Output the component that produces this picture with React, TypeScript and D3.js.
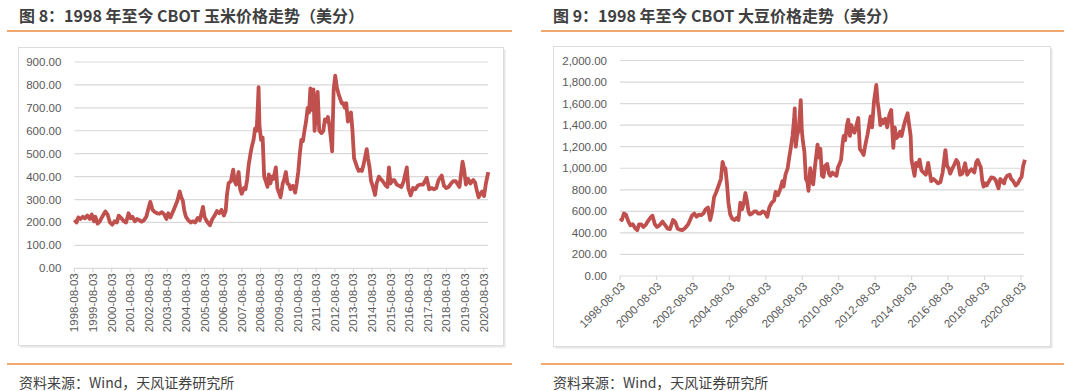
import React from 'react';
import * as d3 from 'd3';

// CBOT corn, cents per bushel
const cornDates = [
  '1998-08-03', '1998-09-15', '1998-10-20', '1998-12-01', '1999-01-15', '1999-03-01', '1999-04-15', '1999-06-01',
  '1999-07-10', '1999-08-20', '1999-09-20', '1999-11-01', '1999-12-15', '2000-02-01', '2000-04-01', '2000-05-15',
  '2000-07-01', '2000-08-15', '2000-10-01', '2000-11-15', '2000-12-20', '2001-02-10', '2001-04-01', '2001-05-15',
  '2001-07-01', '2001-08-10', '2001-09-15', '2001-11-01', '2001-12-15', '2002-02-01', '2002-03-15', '2002-05-01',
  '2002-06-15', '2002-08-01', '2002-09-01', '2002-10-15', '2002-12-01', '2003-01-15', '2003-03-01', '2003-04-15',
  '2003-06-01', '2003-07-15', '2003-08-20', '2003-10-01', '2003-11-15', '2004-01-01', '2004-02-15', '2004-04-01',
  '2004-05-01', '2004-06-01', '2004-07-01', '2004-08-01', '2004-09-15', '2004-11-01', '2004-12-15', '2005-02-01',
  '2005-03-20', '2005-05-01', '2005-07-01', '2005-08-01', '2005-09-15', '2005-11-15', '2006-01-01', '2006-02-15',
  '2006-04-01', '2006-05-15', '2006-07-01', '2006-08-15', '2006-09-20', '2006-10-15', '2006-11-15', '2007-01-01',
  '2007-02-15', '2007-03-15', '2007-04-15', '2007-05-15', '2007-06-01', '2007-07-01', '2007-08-01', '2007-09-15',
  '2007-10-15', '2007-11-15', '2007-12-15', '2008-01-20', '2008-02-20', '2008-03-20', '2008-04-20', '2008-05-20',
  '2008-06-15', '2008-06-27', '2008-07-15', '2008-08-15', '2008-09-15', '2008-10-15', '2008-11-15', '2008-12-20',
  '2009-01-15', '2009-02-15', '2009-03-15', '2009-04-15', '2009-06-01', '2009-07-01', '2009-08-01', '2009-09-01',
  '2009-10-15', '2009-11-15', '2009-12-15', '2010-01-15', '2010-02-15', '2010-03-15', '2010-05-01', '2010-06-15',
  '2010-07-15', '2010-08-15', '2010-09-15', '2010-10-15', '2010-11-15', '2010-12-15', '2011-01-15', '2011-02-15',
  '2011-03-15', '2011-04-10', '2011-05-15', '2011-06-10', '2011-07-01', '2011-08-01', '2011-08-31', '2011-10-01',
  '2011-11-15', '2011-12-20', '2012-01-20', '2012-02-20', '2012-03-20', '2012-04-20', '2012-05-20', '2012-06-10',
  '2012-07-10', '2012-08-10', '2012-09-10', '2012-10-15', '2012-11-15', '2012-12-15', '2013-01-15', '2013-02-15',
  '2013-03-15', '2013-04-15', '2013-05-15', '2013-06-15', '2013-07-15', '2013-08-15', '2013-09-15', '2013-10-15',
  '2013-11-15', '2013-12-15', '2014-01-15', '2014-02-15', '2014-03-15', '2014-04-20', '2014-05-15', '2014-06-15',
  '2014-07-15', '2014-08-15', '2014-10-01', '2014-11-01', '2014-12-15', '2015-01-15', '2015-03-01', '2015-05-01',
  '2015-06-01', '2015-07-01', '2015-08-01', '2015-09-15', '2015-10-15', '2015-12-01', '2016-01-15', '2016-03-01',
  '2016-04-15', '2016-06-15', '2016-07-15', '2016-08-30', '2016-10-15', '2016-12-01', '2017-01-15', '2017-03-01',
  '2017-05-01', '2017-07-10', '2017-08-30', '2017-10-15', '2017-12-01', '2018-01-15', '2018-03-01', '2018-05-01',
  '2018-06-15', '2018-08-01', '2018-09-15', '2018-11-01', '2018-12-15', '2019-02-01', '2019-04-15', '2019-06-15',
  '2019-07-15', '2019-08-20', '2019-10-01', '2019-11-15', '2020-01-10', '2020-02-15', '2020-03-15', '2020-04-25',
  '2020-06-01', '2020-07-01', '2020-08-10', '2020-09-15', '2020-11-01',
];
const cornValues = [
  211, 200, 222, 215, 225, 218, 230, 215,
  235, 205, 225, 195, 205, 225, 248, 235,
  200, 190, 205, 200, 230, 218, 205, 200,
  240, 218, 225, 205, 215, 210, 203, 210,
  225, 265, 290, 255, 245, 240, 238, 245,
  235, 215, 240, 222, 245, 270, 295, 335,
  310, 295, 250, 225, 210, 200, 205, 200,
  220, 210, 268, 225, 205, 188, 215, 230,
  250, 240, 255, 230, 250, 320, 370, 380,
  430, 380, 365, 400, 420, 345, 325, 350,
  345, 385, 450, 500, 535, 560, 610, 600,
  720, 790, 620, 560, 570, 400, 380, 355,
  410, 370, 400, 390, 440, 350, 330, 310,
  370, 390, 420, 370, 365, 345, 360, 330,
  370, 420, 500, 560, 555, 600, 640, 700,
  680, 785, 690, 780, 600, 680, 770, 600,
  590, 600, 650, 640, 660, 620, 560, 510,
  780, 840, 790, 760, 740, 720, 720, 700,
  720, 640, 660, 680, 600, 480, 460, 440,
  425, 430, 425, 450, 480, 520, 480, 440,
  380, 360, 320, 370, 400, 390, 380, 360,
  355, 440, 370, 385, 385, 365, 360, 355,
  380, 440, 350, 318, 350, 345, 360, 365,
  365, 395, 345, 350, 345, 350, 385, 405,
  360, 350, 355, 370, 380, 380, 355, 465,
  430, 365, 390, 370, 385, 375, 345, 310,
  325, 335, 315, 370, 420,
];

// CBOT soybeans, cents per bushel
const soyDates = [
  '1998-08-03', '1998-09-10', '1998-10-20', '1998-12-01', '1999-01-15', '1999-03-01', '1999-04-15', '1999-06-01',
  '1999-07-15', '1999-08-20', '1999-10-01', '1999-11-15', '2000-01-01', '2000-02-15', '2000-04-01', '2000-05-15',
  '2000-07-01', '2000-08-15', '2000-10-01', '2000-12-01', '2001-01-20', '2001-03-15', '2001-05-01', '2001-07-01',
  '2001-08-15', '2001-10-01', '2001-11-15', '2002-01-01', '2002-03-01', '2002-05-01', '2002-07-15', '2002-09-01',
  '2002-10-15', '2002-12-01', '2003-01-15', '2003-03-01', '2003-04-15', '2003-06-01', '2003-07-15', '2003-08-20',
  '2003-10-01', '2003-11-15', '2004-01-01', '2004-02-15', '2004-03-20', '2004-04-15', '2004-05-15', '2004-06-15',
  '2004-07-15', '2004-08-20', '2004-10-01', '2004-11-15', '2004-12-30', '2005-02-01', '2005-03-10', '2005-04-15',
  '2005-05-20', '2005-06-20', '2005-07-20', '2005-08-20', '2005-09-20', '2005-11-01', '2005-12-15', '2006-01-20',
  '2006-03-01', '2006-04-15', '2006-06-01', '2006-07-15', '2006-09-01', '2006-10-15', '2006-12-01', '2007-01-15',
  '2007-02-15', '2007-04-01', '2007-05-15', '2007-07-01', '2007-07-25', '2007-09-01', '2007-10-15', '2007-11-15',
  '2007-12-20', '2008-01-20', '2008-02-20', '2008-03-05', '2008-03-25', '2008-04-20', '2008-05-20', '2008-06-15',
  '2008-07-03', '2008-07-25', '2008-08-15', '2008-09-15', '2008-10-15', '2008-11-15', '2008-12-05', '2009-01-10',
  '2009-02-15', '2009-03-10', '2009-04-15', '2009-06-05', '2009-07-01', '2009-08-01', '2009-09-01', '2009-10-01',
  '2009-11-01', '2009-12-15', '2010-01-20', '2010-02-15', '2010-04-01', '2010-05-15', '2010-06-20', '2010-07-20',
  '2010-08-20', '2010-09-20', '2010-10-20', '2010-11-10', '2010-12-10', '2011-01-15', '2011-02-10', '2011-03-15',
  '2011-04-15', '2011-05-15', '2011-06-15', '2011-07-15', '2011-08-30', '2011-10-01', '2011-11-15', '2011-12-15',
  '2012-01-20', '2012-03-01', '2012-04-10', '2012-05-01', '2012-06-01', '2012-07-10', '2012-08-25', '2012-09-20',
  '2012-10-20', '2012-11-15', '2012-12-15', '2013-01-15', '2013-02-20', '2013-04-01', '2013-05-15', '2013-06-20',
  '2013-08-01', '2013-08-30', '2013-10-01', '2013-11-15', '2013-12-15', '2014-01-15', '2014-02-20', '2014-04-01',
  '2014-05-15', '2014-06-15', '2014-07-15', '2014-08-01', '2014-09-01', '2014-10-01', '2014-10-30', '2014-12-01',
  '2015-01-10', '2015-02-15', '2015-04-01', '2015-05-15', '2015-06-30', '2015-08-01', '2015-09-01', '2015-10-15',
  '2015-12-01', '2016-01-15', '2016-03-01', '2016-04-15', '2016-06-10', '2016-07-15', '2016-08-15', '2016-09-15',
  '2016-10-20', '2016-12-01', '2017-01-15', '2017-02-20', '2017-04-01', '2017-05-15', '2017-07-10', '2017-08-20',
  '2017-10-01', '2017-11-15', '2018-01-10', '2018-02-20', '2018-03-20', '2018-04-20', '2018-05-20', '2018-06-20',
  '2018-07-15', '2018-08-20', '2018-09-15', '2018-11-01', '2018-12-15', '2019-02-01', '2019-03-15', '2019-05-10',
  '2019-06-15', '2019-07-20', '2019-09-01', '2019-09-20', '2019-11-01', '2019-12-20', '2020-01-20', '2020-03-01',
  '2020-04-20', '2020-06-01', '2020-07-15', '2020-08-15', '2020-09-15', '2020-10-20',
];
const soyValues = [
  535, 520, 580, 570, 510, 470, 480, 445,
  425, 480, 480, 455, 475, 510, 540, 560,
  480, 455, 470, 505, 475, 440, 435, 520,
  500, 440, 430, 425, 445, 480, 560, 580,
  550, 570, 565, 580, 620, 635, 520, 590,
  730, 780, 840, 900, 1060, 1010, 1000, 860,
  680, 570, 530, 520, 540, 520, 680, 620,
  680, 770, 700, 600, 570, 580, 600, 600,
  580, 580, 600, 590, 550, 640, 680, 700,
  780, 750, 800, 880, 830, 940, 1000, 1100,
  1200, 1300, 1450, 1556, 1200, 1300, 1350, 1500,
  1633, 1350, 1250, 1150, 900, 870, 790, 1000,
  880, 850, 1020, 1220, 1100, 1180, 930, 920,
  1020, 1040, 950, 930, 960, 940, 930, 1010,
  1040, 1080, 1230, 1300, 1260, 1400, 1450, 1300,
  1400, 1350, 1330, 1380, 1466, 1180, 1150, 1123,
  1220, 1310, 1420, 1480, 1380, 1620, 1773, 1620,
  1520, 1400, 1450, 1420, 1460, 1380, 1500, 1541,
  1190, 1380, 1280, 1300, 1340, 1300, 1380, 1450,
  1510, 1400, 1300, 1080, 1000, 930, 1050, 1020,
  1080, 980, 960, 940, 1050, 960, 880, 900,
  880, 860, 870, 960, 1169, 1020, 1000, 950,
  990, 1030, 1077, 1050, 940, 950, 1046, 940,
  970, 990, 960, 1060, 1077, 1040, 1010, 880,
  829, 860, 840, 880, 915, 910, 890, 814,
  900, 880, 860, 900, 930, 940, 900, 880,
  840, 860, 900, 920, 1020, 1080,
];

const cornTicks = d3.range(1998, 2021).map(y => `${y}-08-03`);
const soyTicks = d3.range(1998, 2021, 2).map(y => `${y}-08-03`);
const cornYTicks = d3.range(0, 901, 100);
const soyYTicks = d3.range(0, 2001, 200);

const parse = d3.timeParse('%Y-%m-%d');
const fmtY = d3.format(',.2f');

const LINE = '#c0504d';
const GRID = '#d9d9d9';
const LABEL = '#595959';
const ORANGE = '#ed8a3f';
const FONT = '"Liberation Sans", Arial, sans-serif';
const CJK = '"Noto Sans CJK SC", "Noto Sans", sans-serif';

interface PanelProps {
  x0: number;
  title: string;
  orangeX: [number, number];
  box: { left: number; top: number; right: number; bottom: number };
  dates: string[];
  values: number[];
  ticks: string[];
  yTicks: number[];
  xRange: [number, number];
  yRange: [number, number];
  yMax: number;
  gridRight: number;
  rotate: number;
}

function Panel(p: PanelProps) {
  const x = d3.scaleTime()
    .domain([parse(p.ticks[0])!, parse(p.ticks[p.ticks.length - 1])!])
    .range(p.xRange);
  const y = d3.scaleLinear().domain([0, p.yMax]).range(p.yRange);
  const pts = p.dates.map((d, i) => [x(parse(d)!), y(p.values[i])] as [number, number]);
  const path = d3.line()(pts) || '';
  const gridLeft = p.xRange[0];

  return (
    <g>
      <text x={p.x0} y={22} fontFamily={CJK} fontWeight={700} fontSize={16} fill="#3f3f3f">{p.title}</text>
      <line x1={p.orangeX[0]} x2={p.orangeX[1]} y1={31} y2={31} stroke={ORANGE} strokeWidth={1.5} />
      <rect x={p.box.left + 2} y={p.box.top + 2} width={p.box.right - p.box.left} height={p.box.bottom - p.box.top} fill="#e6e6e6" />
      <rect x={p.box.left} y={p.box.top} width={p.box.right - p.box.left} height={p.box.bottom - p.box.top} fill="#fff" stroke="#dcdcdc" strokeWidth={1} />
      {p.yTicks.map(t => (
        <g key={t}>
          <line x1={gridLeft} x2={p.gridRight} y1={y(t)} y2={y(t)} stroke={GRID} strokeWidth={1.2} />
          <text x={gridLeft - 13} y={y(t)} dy="0.35em" textAnchor="end" fontFamily={FONT} fontSize={11.5} fill={LABEL}>{fmtY(t)}</text>
        </g>
      ))}
      {p.ticks.map(t => {
        const tx = x(parse(t)!);
        return (
          <g key={t}>
            <line x1={tx} x2={tx} y1={p.yRange[0]} y2={p.yRange[0] + 4} stroke={GRID} strokeWidth={1.2} />
            <text
              transform={p.rotate === -90
                ? `translate(${tx},${p.yRange[0] + 5}) rotate(-90)`
                : `translate(${tx + 3},${p.yRange[0] + 8}) rotate(-45)`}
              textAnchor="end" dy="0.35em" fontFamily={FONT} fontSize={11.5} fill={LABEL}
            >{t}</text>
          </g>
        );
      })}
      <path d={path} fill="none" stroke={LINE} strokeWidth={3.8} strokeLinejoin="round" />
      <line x1={p.orangeX[0]} x2={p.orangeX[1]} y1={364} y2={364} stroke={ORANGE} strokeWidth={1.5} />
      <text x={p.x0} y={388} fontFamily={CJK} fontSize={14} fill="#404040">资料来源：Wind，天风证券研究所</text>
    </g>
  );
}

export default function App() {
  return (
    <svg width={1080} height={391} style={{ position: 'absolute', left: 0, top: 0, background: '#fff' }}>
      <rect width={1080} height={391} fill="#fff" />
      <Panel
        x0={19}
        title="图 8：1998 年至今 CBOT 玉米价格走势（美分）"
        orangeX={[7, 512]}
        box={{ left: 18.5, top: 47.5, right: 503.5, bottom: 345.5 }}
        dates={cornDates}
        values={cornValues}
        ticks={cornTicks}
        yTicks={cornYTicks}
        xRange={[74.4, 483.7]}
        yRange={[268.3, 62]}
        yMax={900}
        gridRight={488}
        rotate={-90}
      />
      <Panel
        x0={553}
        title="图 9：1998 年至今 CBOT 大豆价格走势（美分）"
        orangeX={[541, 1064]}
        box={{ left: 553.5, top: 46.5, right: 1050.5, bottom: 346.5 }}
        dates={soyDates}
        values={soyValues}
        ticks={soyTicks}
        yTicks={soyYTicks}
        xRange={[620, 1021]}
        yRange={[276, 60.5]}
        yMax={2000}
        gridRight={1024}
        rotate={-45}
      />
    </svg>
  );
}
